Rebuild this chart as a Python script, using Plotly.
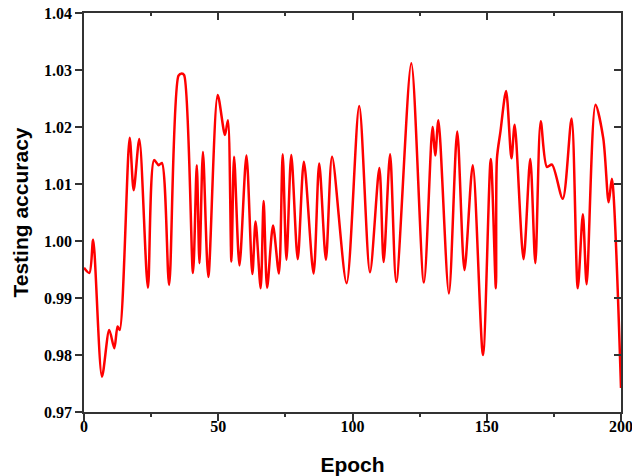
import plotly.graph_objects as go

epoch = [0, 2.0, 3.4, 6.7, 9.4, 11.3, 12.5, 13.3, 17.0, 18.5,
         20.6, 23.8, 26.1, 27.8, 29.0, 31.7, 35.2, 36.4, 37.3, 40.6,
         42.0, 43.0, 44.3, 46.3, 49.8, 52.5, 53.6, 54.9, 55.9, 57.9,
         60.5, 62.7, 63.9, 65.8, 66.9, 68.2, 70.4, 72.6, 74.0, 75.4,
         77.2, 79.6, 81.9, 85.5, 87.6, 90.1, 92.4, 97.8, 102.5, 106.5,
         110.0, 111.6, 114.0, 116.3, 121.9, 126.6, 129.8, 130.8, 132.0, 135.9,
         139.0, 141.7, 144.8, 148.6, 151.5, 153.4, 153.8, 155.1, 157.2, 159.2,
         160.4, 163.7, 166.2, 168.1, 170.1, 172.4, 174.3, 178.3, 181.6, 183.9,
         185.8, 187.2, 190.5, 193.4, 195.4, 196.6, 200]

accuracy = [0.9953, 0.9944, 1.0002, 0.9762, 0.9844, 0.9812, 0.9850, 0.9844, 1.0181, 1.0089,
            1.0179, 0.9918, 1.0142, 1.0133, 1.0137, 0.9923, 1.0290, 1.0294, 1.0291, 0.9944,
            1.0133, 0.9961, 1.0156, 0.9937, 1.0256, 1.0186, 1.0212, 0.9964, 1.0148, 0.9957,
            1.0150, 0.9942, 1.0034, 0.9917, 1.0070, 0.9918, 1.0027, 0.9943, 1.0152, 0.9967,
            1.0151, 0.9968, 1.0139, 0.9943, 1.0136, 0.9967, 1.0148, 0.9926, 1.0237, 0.9945,
            1.0128, 0.9963, 1.0152, 0.9928, 1.0312, 0.9927, 1.0200, 1.0150, 1.0212, 0.9908,
            1.0192, 0.9949, 1.0133, 0.9800, 1.0144, 0.9917, 1.0145, 1.0192, 1.0263, 1.0145,
            1.0204, 0.9968, 1.0144, 0.9961, 1.0210, 1.0130, 1.0134, 1.0074, 1.0215, 0.9917,
            1.0047, 0.9924, 1.0239, 1.0180, 1.0068, 1.0109, 0.9742]

x_ticks = [0, 50, 100, 150, 200]
y_ticks = [0.97, 0.98, 0.99, 1.00, 1.01, 1.02, 1.03, 1.04]
y_tick_text = ["0.97", "0.98", "0.99", "1.00", "1.01", "1.02", "1.03", "1.04"]

axis_color = "#333333"
tick_font = dict(family="Liberation Serif", size=16, color="black", weight="bold")
title_font = dict(family="Liberation Sans", size=21, color="black", weight="bold")

fig = go.Figure()
fig.add_trace(go.Scatter(
    x=epoch, y=accuracy, mode="lines",
    line=dict(color="#ff0000", width=2.5, shape="spline", smoothing=0.8),
    showlegend=False, hoverinfo="x+y",
))
# invisible trace to carry the mirrored (inside-tick) top/right axes
fig.add_trace(go.Scatter(
    x=epoch, y=accuracy, mode="lines", xaxis="x2", yaxis="y2",
    line=dict(color="rgba(0,0,0,0)", width=0), showlegend=False, hoverinfo="skip",
))

fig.update_layout(
    width=632, height=476,
    margin=dict(l=84, r=11, t=13, b=64, autoexpand=False),
    plot_bgcolor="white", paper_bgcolor="white",
    xaxis=dict(
        range=[0, 200], tickvals=x_ticks, ticks="outside", ticklen=7, tickwidth=1.5,
        tickcolor=axis_color, showline=True, linecolor=axis_color, linewidth=1.5,
        showgrid=False, zeroline=False, tickfont=tick_font, automargin=False,
        ticklabelstandoff=-8, ticklabeloverflow="allow",
        minor=dict(dtick=25, tick0=0, ticks="outside", ticklen=3, tickcolor=axis_color, showgrid=False),
        title=dict(text="Epoch", font=title_font, standoff=24),
    ),
    yaxis=dict(
        range=[0.97, 1.04], tickvals=y_ticks, ticktext=y_tick_text, ticks="outside",
        ticklen=7, tickwidth=1.5, tickcolor=axis_color, showline=True,
        linecolor=axis_color, linewidth=1.5, showgrid=False, zeroline=False,
        tickfont=tick_font, automargin=False, ticklabeloverflow="allow",
        title=dict(text="Testing accuracy", font=title_font, standoff=10),
    ),
    xaxis2=dict(
        range=[0, 200], overlaying="x", side="top", anchor="y2", tickvals=x_ticks,
        ticks="inside", ticklen=7, tickwidth=1.5, tickcolor=axis_color,
        showline=True, linecolor=axis_color, linewidth=1.5, showticklabels=False,
        showgrid=False, zeroline=False, automargin=False,
        minor=dict(dtick=25, tick0=0, ticks="inside", ticklen=3, tickcolor=axis_color, showgrid=False),
    ),
    yaxis2=dict(
        range=[0.97, 1.04], overlaying="y", side="right", anchor="x2", tickvals=y_ticks,
        ticks="inside", ticklen=7, tickwidth=1.5, tickcolor=axis_color,
        showline=True, linecolor=axis_color, linewidth=1.5, showticklabels=False,
        showgrid=False, zeroline=False, automargin=False,
    ),
)

fig.write_html("out.html", config={"displayModeBar": False},
               post_script="document.body.style.margin='0';")
